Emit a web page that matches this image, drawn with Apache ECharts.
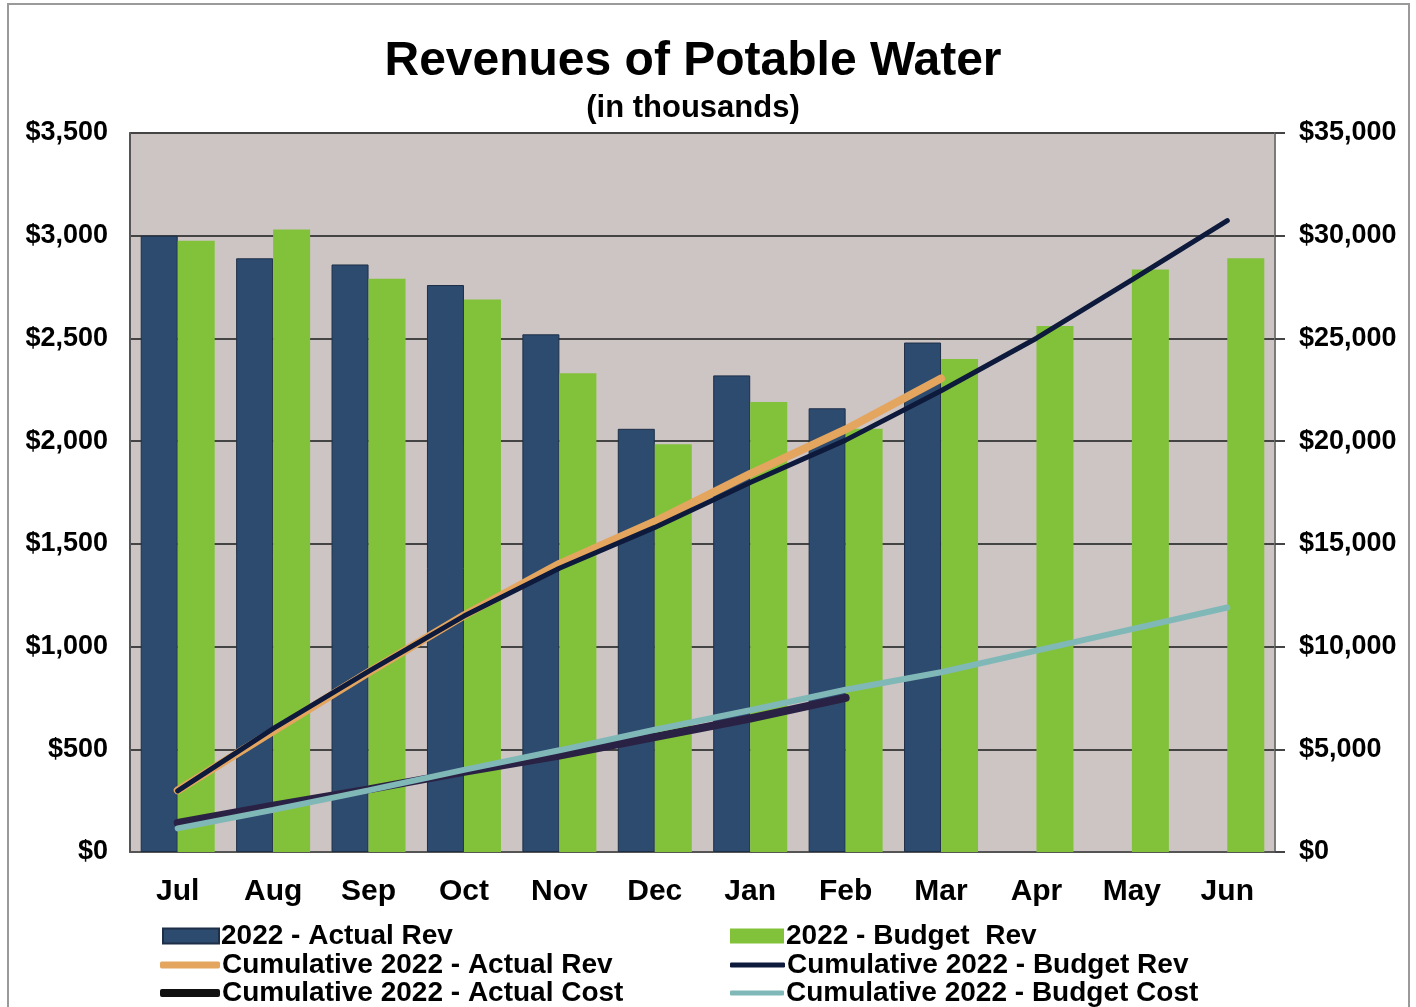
<!DOCTYPE html>
<html>
<head>
<meta charset="utf-8">
<script src="https://cdn.jsdelivr.net/npm/echarts@6/dist/echarts.min.js"></script>
<style>
html,body{margin:0;padding:0;background:#fff;}
#chart{width:1416px;height:1007px;}
</style>
</head>
<body>
<div id="chart"></div>
<script>
var categories = ['Jul','Aug','Sep','Oct','Nov','Dec','Jan','Feb','Mar','Apr','May','Jun'];
var actualRev = [3000, 2890, 2860, 2760, 2520, 2060, 2320, 2160, 2480, null, null, null];
var budgetRev = [2975, 3030, 2790, 2690, 2330, 1985, 2190, 2060, 2400, 2560, 2835, 2890];
var cumActualRev = [3000, 5890, 8750, 11510, 14030, 16090, 18410, 20570, 23050];
var cumBudgetRev = [2975, 6005, 8795, 11485, 13815, 15800, 17990, 20050, 22450, 25010, 27845, 30735];
var cumActualCost = [1420, 2250, 3050, 3900, 4700, 5600, 6500, 7500];
var cumBudgetCost = [1150, 2050, 3000, 4000, 4950, 5950, 6900, 7900, 8750, 9800, 10850, 11900];
var leftTicks = {min: 0, max: 3500, interval: 500};
var rightTicks = {min: 0, max: 35000, interval: 5000};

var names = ['2022 - Actual Rev', '2022 - Budget  Rev', 'Cumulative 2022 - Actual Rev',
  'Cumulative 2022 - Budget Rev', 'Cumulative 2022 - Actual Cost', 'Cumulative 2022 - Budget Cost'];
var colors = {
  actual: '#2d4b6f', budget: '#82c23a', cumActual: '#e4a55e',
  cumBudget: '#0e1a3c', cumCost: '#2a2244', cumBudgetCost: '#80b8b8'
};
var FONT = '"Liberation Sans", Arial, sans-serif';
function money(v){ return '$' + v.toLocaleString('en-US'); }
function leg(name, left, top, w, h, icon, color){
  return {
    data: [{name: name, icon: icon, itemStyle: {color: color}}],
    left: left, top: top, padding: 0, itemWidth: w, itemHeight: h, itemGap: 0,
    selectedMode: false,
    textStyle: {fontFamily: FONT, fontWeight: 'bold', fontSize: 28, color: '#000', padding: [0,0,0,-3]}
  };
}
var chart = echarts.init(document.getElementById('chart'));
chart.setOption({
  backgroundColor: '#ffffff',
  animation: false,
  title: [{
    text: 'Revenues of Potable Water', left: 688, top: 33, textAlign: 'center',
    textStyle: {fontFamily: FONT, fontWeight: 'bold', fontSize: 48, color: '#000'}
  },{
    text: '(in thousands)', left: 688, top: 88, textAlign: 'center',
    textStyle: {fontFamily: FONT, fontWeight: 'bold', fontSize: 31, color: '#000'}
  }],
  graphic: [{
    type: 'rect', shape: {x: 8, y: 4, width: 1401, height: 1010},
    style: {fill: 'none', stroke: '#9a9a9a', lineWidth: 2}, silent: true
  }],
  legend: [
    leg(names[0], 162, 922, 56, 15, 'rect', colors.actual),
    leg(names[2], 160, 951, 60, 7, 'roundRect', colors.cumActual),
    leg(names[4], 160, 979, 60, 8, 'roundRect', '#111111'),
    leg(names[1], 730, 922, 54, 15, 'rect', colors.budget),
    leg(names[3], 730, 951, 55, 5, 'roundRect', colors.cumBudget),
    leg(names[5], 730, 979, 54, 5, 'roundRect', colors.cumBudgetCost)
  ],
  grid: {
    left: 130, right: 141, top: 133, bottom: 155,
    show: true, backgroundColor: '#cdc4c4', borderColor: '#6a6a6a', borderWidth: 1.5
  },
  xAxis: {
    type: 'category', data: categories,
    axisLine: {lineStyle: {color: '#555', width: 2}},
    axisTick: {show: false},
    axisLabel: {fontFamily: FONT, fontWeight: 'bold', fontSize: 30, color: '#000', margin: 25}
  },
  yAxis: [{
    type: 'value', min: leftTicks.min, max: leftTicks.max, interval: leftTicks.interval,
    axisLine: {show: true, lineStyle: {color: '#555', width: 2}},
    axisTick: {show: false},
    splitLine: {lineStyle: {color: '#444', width: 2}},
    axisLabel: {formatter: money, fontFamily: FONT, fontWeight: 'bold', fontSize: 27, color: '#000', margin: 22}
  },{
    type: 'value', min: rightTicks.min, max: rightTicks.max, interval: rightTicks.interval,
    axisLine: {show: true, lineStyle: {color: '#777', width: 1.5}},
    axisTick: {show: true, length: 10, lineStyle: {color: '#444', width: 2}},
    splitLine: {show: false},
    axisLabel: {formatter: money, fontFamily: FONT, fontWeight: 'bold', fontSize: 27, color: '#000', margin: 24}
  }],
  series: [
    {name: names[0], type: 'bar', data: actualRev, barWidth: 37, barGap: '0%',
     itemStyle: {color: colors.actual, borderColor: '#1d2f47', borderWidth: 1}},
    {name: names[1], type: 'bar', data: budgetRev, barWidth: 37,
     itemStyle: {color: colors.budget}},
    {name: names[2], type: 'line', yAxisIndex: 1, data: cumActualRev, showSymbol: false, symbol: 'none',
     lineStyle: {color: colors.cumActual, width: 8, cap: 'round'}, z: 3},
    {name: names[3], type: 'line', yAxisIndex: 1, data: cumBudgetRev, showSymbol: false, symbol: 'none',
     lineStyle: {color: colors.cumBudget, width: 5, cap: 'round'}, z: 4},
    {name: names[4], type: 'line', yAxisIndex: 1, data: cumActualCost, showSymbol: false, symbol: 'none',
     lineStyle: {color: colors.cumCost, width: 8, cap: 'round'}, z: 3},
    {name: names[5], type: 'line', yAxisIndex: 1, data: cumBudgetCost, showSymbol: false, symbol: 'none',
     lineStyle: {color: colors.cumBudgetCost, width: 6, cap: 'round'}, z: 5}
  ]
});
</script>
</body>
</html>
